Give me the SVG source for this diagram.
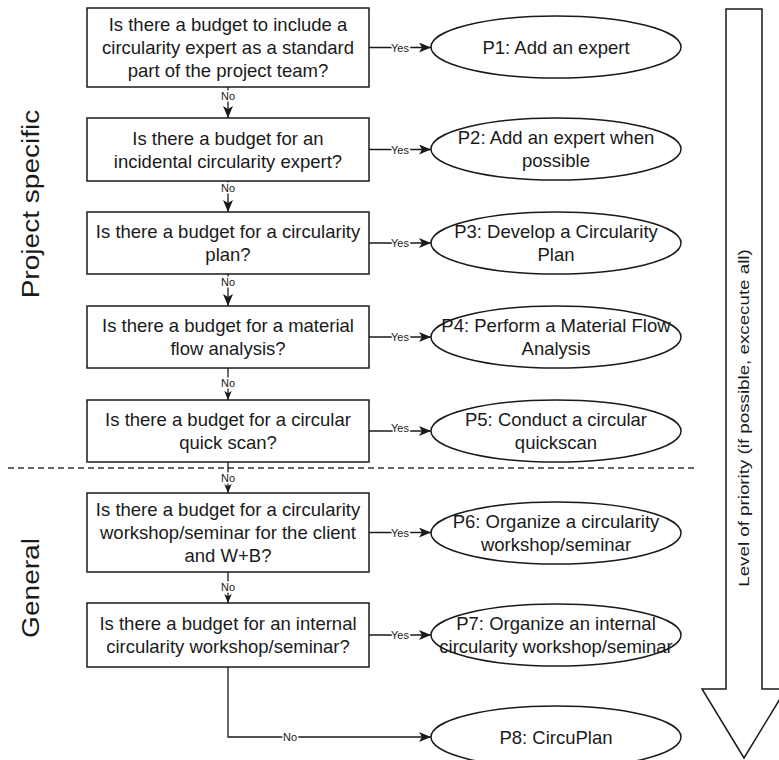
<svg xmlns="http://www.w3.org/2000/svg" width="779" height="760" viewBox="0 0 779 760">
<style>
.box{fill:#fff;stroke:#1a1a1a;stroke-width:1.5}
.ell{fill:#fff;stroke:#1a1a1a;stroke-width:1.5}
.t{font-family:"Liberation Sans",Arial,sans-serif;font-size:18.5px;fill:#1a1a1a;text-anchor:middle}
.lbl{font-family:"Liberation Sans",Arial,sans-serif;font-size:11px;fill:#1a1a1a;text-anchor:middle;stroke:#fff;stroke-width:3;paint-order:stroke}
.side{font-family:"Liberation Sans",Arial,sans-serif;font-size:24px;fill:#1a1a1a;text-anchor:middle}
.edge{fill:none;stroke:#1a1a1a;stroke-width:1.3}
</style>
<defs>
<marker id="ah" viewBox="0 0 12 10" refX="12" refY="5" markerWidth="12" markerHeight="10" markerUnits="userSpaceOnUse" orient="auto">
<path d="M0,0 L12,5 L0,10 L3,5 z" fill="#1a1a1a"/>
</marker>
<marker id="ahs" viewBox="0 0 12 10" refX="12" refY="5" markerWidth="9" markerHeight="8" markerUnits="userSpaceOnUse" orient="auto">
<path d="M0,0 L12,5 L0,10 L3,5 z" fill="#1a1a1a"/>
</marker>
</defs>
<rect width="779" height="760" fill="#fff"/>

<g id="side-labels">
<text class="side" transform="translate(39,204) scale(1,1.17) rotate(-90)">Project specific</text>
<text class="side" transform="translate(39,588) scale(1,1.17) rotate(-90)">General</text>
</g>

<g id="separator">
<line x1="8" y1="468" x2="698" y2="468" stroke="#333" stroke-width="1.5" stroke-dasharray="6,4"/>
</g>

<g id="priority-arrow">
<polygon points="726,9 762,9 762,689 786,689 744,758 702,689 726,689" fill="#fff" stroke="#1a1a1a" stroke-width="1.5"/>
<text transform="translate(749,418) scale(1,1.25) rotate(-90)" font-family="Liberation Sans, Arial, sans-serif" font-size="15" fill="#1a1a1a" text-anchor="middle">Level of priority (if possible, excecute all)</text>
</g>

<g id="connectors">
<line class="edge" x1="369" y1="47.5" x2="431" y2="47.5" marker-end="url(#ah)"/>
<line class="edge" x1="369" y1="149.5" x2="431" y2="149.5" marker-end="url(#ah)"/>
<line class="edge" x1="369" y1="243" x2="431" y2="243" marker-end="url(#ah)"/>
<line class="edge" x1="369" y1="337" x2="431" y2="337" marker-end="url(#ah)"/>
<line class="edge" x1="369" y1="431" x2="431" y2="431" marker-end="url(#ah)"/>
<line class="edge" x1="369" y1="532.5" x2="431" y2="532.5" marker-end="url(#ah)"/>
<line class="edge" x1="369" y1="635" x2="431" y2="635" marker-end="url(#ah)"/>
<line class="edge" x1="228" y1="87" x2="228" y2="118" marker-end="url(#ah)"/>
<line class="edge" x1="228" y1="181" x2="228" y2="212" marker-end="url(#ah)"/>
<line class="edge" x1="228" y1="274" x2="228" y2="306" marker-end="url(#ah)"/>
<line class="edge" x1="228" y1="368" x2="228" y2="400" marker-end="url(#ahs)"/>
<line class="edge" x1="228" y1="462" x2="228" y2="493" marker-end="url(#ahs)"/>
<line class="edge" x1="228" y1="572" x2="228" y2="603" marker-end="url(#ahs)"/>
<path class="edge" d="M228,667 L228,737 L431,737" marker-end="url(#ah)"/>
<text class="lbl" x="400" y="51.5">Yes</text>
<text class="lbl" x="400" y="153.5">Yes</text>
<text class="lbl" x="400" y="247">Yes</text>
<text class="lbl" x="400" y="341">Yes</text>
<text class="lbl" x="400" y="432">Yes</text>
<text class="lbl" x="400" y="536.5">Yes</text>
<text class="lbl" x="400" y="639">Yes</text>
<text class="lbl" x="228" y="100">No</text>
<text class="lbl" x="228" y="192">No</text>
<text class="lbl" x="228" y="286">No</text>
<text class="lbl" x="228" y="387">No</text>
<text class="lbl" x="228" y="482">No</text>
<text class="lbl" x="228" y="591">No</text>
<text class="lbl" x="290" y="741">No</text>
</g>

<g id="q1">
<rect class="box" x="87" y="8" width="282" height="79"/>
<text class="t" x="228" y="31">Is there a budget to include a</text>
<text class="t" x="228" y="54">circularity expert as a standard</text>
<text class="t" x="228" y="77">part of the project team?</text>
</g>
<g id="q2">
<rect class="box" x="87" y="118" width="282" height="63"/>
<text class="t" x="228" y="144.5">Is there a budget for an</text>
<text class="t" x="228" y="167.5">incidental circularity expert?</text>
</g>
<g id="q3">
<rect class="box" x="87" y="212" width="282" height="62"/>
<text class="t" x="228" y="238">Is there a budget for a circularity</text>
<text class="t" x="228" y="261">plan?</text>
</g>
<g id="q4">
<rect class="box" x="87" y="306" width="282" height="62"/>
<text class="t" x="228" y="332">Is there a budget for a material</text>
<text class="t" x="228" y="355">flow analysis?</text>
</g>
<g id="q5">
<rect class="box" x="87" y="400" width="282" height="62"/>
<text class="t" x="228" y="426">Is there a budget for a circular</text>
<text class="t" x="228" y="449">quick scan?</text>
</g>
<g id="q6">
<rect class="box" x="87" y="493" width="282" height="79"/>
<text class="t" x="228" y="516">Is there a budget for a circularity</text>
<text class="t" x="228" y="539">workshop/seminar for the client</text>
<text class="t" x="228" y="562">and W+B?</text>
</g>
<g id="q7">
<rect class="box" x="87" y="603" width="282" height="64"/>
<text class="t" x="228" y="630">Is there a budget for an internal</text>
<text class="t" x="228" y="653">circularity workshop/seminar?</text>
</g>

<g id="p1">
<ellipse class="ell" cx="556" cy="47" rx="125" ry="31"/>
<text class="t" x="556" y="53.5">P1: Add an expert</text>
</g>
<g id="p2">
<ellipse class="ell" cx="556" cy="149" rx="125" ry="31"/>
<text class="t" x="556" y="144">P2: Add an expert when</text>
<text class="t" x="556" y="167">possible</text>
</g>
<g id="p3">
<ellipse class="ell" cx="556" cy="243" rx="125" ry="31"/>
<text class="t" x="556" y="238">P3: Develop a Circularity</text>
<text class="t" x="556" y="261">Plan</text>
</g>
<g id="p4">
<ellipse class="ell" cx="556" cy="337" rx="125" ry="31"/>
<text class="t" x="556" y="332">P4: Perform a Material Flow</text>
<text class="t" x="556" y="355">Analysis</text>
</g>
<g id="p5">
<ellipse class="ell" cx="556" cy="431" rx="125" ry="31"/>
<text class="t" x="556" y="426">P5: Conduct a circular</text>
<text class="t" x="556" y="449">quickscan</text>
</g>
<g id="p6">
<ellipse class="ell" cx="556" cy="533" rx="125" ry="31"/>
<text class="t" x="556" y="528">P6: Organize a circularity</text>
<text class="t" x="556" y="551">workshop/seminar</text>
</g>
<g id="p7">
<ellipse class="ell" cx="556" cy="635" rx="125" ry="31"/>
<text class="t" x="556" y="630">P7: Organize an internal</text>
<text class="t" x="556" y="653">circularity workshop/seminar</text>
</g>
<g id="p8">
<ellipse class="ell" cx="556" cy="737" rx="125" ry="31"/>
<text class="t" x="556" y="743.5">P8: CircuPlan</text>
</g>
</svg>
